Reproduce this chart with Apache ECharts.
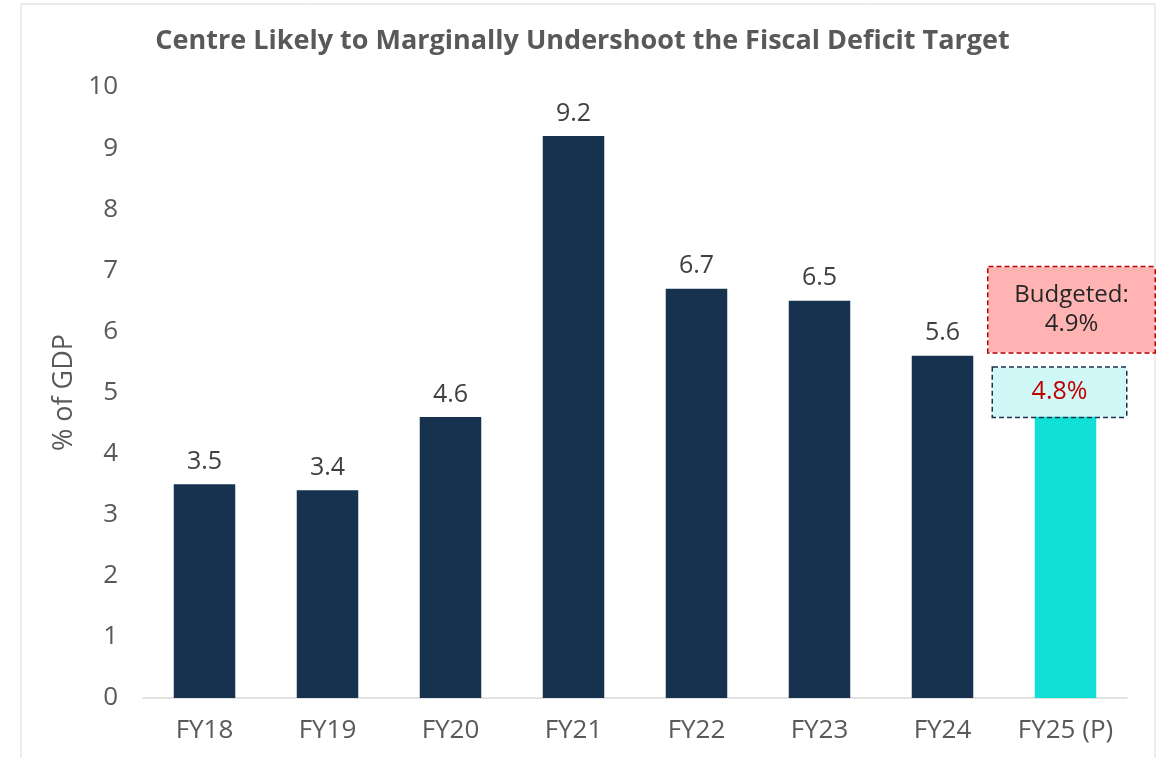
<!DOCTYPE html>
<html>
<head>
<meta charset="utf-8">
<script src="https://cdn.jsdelivr.net/npm/echarts@6/dist/echarts.min.js"></script>
<style>
html,body{margin:0;padding:0;background:#fff;}
#chart{width:1165px;height:758px;}
</style>
</head>
<body>
<div id="chart"></div>
<script>
const categories = ['FY18', 'FY19', 'FY20', 'FY21', 'FY22', 'FY23', 'FY24', 'FY25 (P)'];
const deficitValues = [3.5, 3.4, 4.6, 9.2, 6.7, 6.5, 5.6, 4.8];
const yTicks = [0, 1, 2, 3, 4, 5, 6, 7, 8, 9, 10];
const budgetedText = 'Budgeted:\n4.9%';
const projectedText = '4.8%';
const titleText = 'Centre Likely to Marginally Undershoot the Fiscal Deficit Target';
const yAxisName = '% of GDP';

const FONT = '"Open Sans", "Noto Sans", sans-serif';
const NAVY = '#17324f';
const CYAN = '#10dfd5';
const last = categories.length - 1;

const seriesData = deficitValues.map((v, i) => {
  if (i === last) {
    return {
      value: v,
      itemStyle: { color: CYAN },
      label: {
        show: true,
        position: 'top',
        distance: 0,
        offset: [-6, 12],
        formatter: projectedText,
        color: '#c00000',
        fontSize: 25,
        width: 133,
        height: 49,
        lineHeight: 49,
        align: 'center',
        backgroundColor: '#cff8f7',
        borderColor: '#17324f',
        borderWidth: 1.5,
        borderType: [5, 3]
      }
    };
  }
  return { value: v };
});

const chart = echarts.init(document.getElementById('chart'));
chart.setOption({
  backgroundColor: '#ffffff',
  animation: false,
  title: {
    text: titleText,
    left: 'center',
    top: 23,
    textStyle: { fontFamily: FONT, fontSize: 27, fontWeight: 'bold', color: '#595959' }
  },
  graphic: [{
    type: 'rect',
    shape: { x: 21, y: 4, width: 1134, height: 800 },
    style: { fill: 'none', stroke: '#d9d9d9', lineWidth: 1 },
    silent: true
  }],
  grid: { left: 143, right: 38, top: 87, bottom: 60 },
  xAxis: {
    type: 'category',
    data: categories,
    axisLine: { show: true, lineStyle: { color: '#d9d9d9', width: 1.5 } },
    axisTick: { show: false },
    axisLabel: { interval: 0, hideOverlap: false, fontFamily: FONT, fontSize: 26, color: '#595959', margin: 20 }
  },
  yAxis: {
    type: 'value',
    min: yTicks[0],
    max: yTicks[yTicks.length - 1],
    interval: 1,
    name: yAxisName,
    nameLocation: 'middle',
    nameGap: 60,
    nameRotate: 90,
    nameTextStyle: { fontFamily: FONT, fontSize: 27, color: '#595959' },
    axisLine: { show: false },
    axisTick: { show: false },
    splitLine: { show: false },
    axisLabel: { fontFamily: FONT, fontSize: 26, color: '#595959', margin: 25 }
  },
  series: [{
    type: 'bar',
    data: seriesData,
    barWidth: '50%',
    itemStyle: { color: NAVY },
    label: {
      show: true,
      position: 'top',
      distance: 10,
      fontFamily: FONT,
      fontSize: 25,
      color: '#404040'
    },
    markPoint: {
      symbol: 'rect',
      symbolSize: 0,
      silent: true,
      data: [{
        coord: [last, deficitValues[last]],
        label: {
          show: true,
          formatter: budgetedText,
          position: 'inside',
          offset: [6, -95],
          fontFamily: FONT,
          fontSize: 24,
          lineHeight: 29,
          color: '#262626',
          align: 'center',
          width: 166,
          height: 76,
          padding: [9, 0, 0, 0],
          backgroundColor: '#ffb3b3',
          borderColor: '#c00000',
          borderWidth: 1.5,
          borderType: [5, 3]
        }
      }]
    }
  }]
});
</script>
</body>
</html>
